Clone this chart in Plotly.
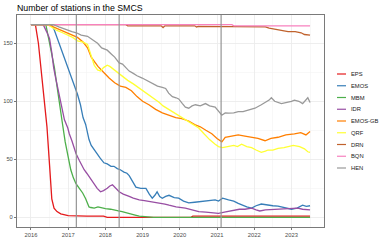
import plotly.graph_objects as go

# ---------------- data (decimal years, number of stations) ----------------
names = ["EPS", "EMOS", "MBM", "IDR", "EMOS-GB", "QRF", "DRN", "BQN", "HEN"]
colors = ["#E41A1C", "#377EB8", "#4DAF4A", "#984EA3", "#FF7F00",
          "#FFFF33", "#C0622D", "#F781BF", "#999999"]

eps_x = [2016.0, 2016.12, 2016.2, 2016.27, 2016.35, 2016.43, 2016.5, 2016.56, 2016.62,
         2016.7, 2016.8, 2016.9, 2017.0, 2017.5, 2017.95, 2018.05, 2020.3, 2020.35, 2023.5]
eps_y = [166, 166, 150, 129, 106, 78, 45, 16, 8, 5, 3, 2, 1.5, 1, 1, 0, 0, 1, 1]

emos_x = [2016.0, 2016.55, 2016.62, 2016.7, 2016.81, 2016.9, 2016.99, 2017.05, 2017.12,
          2017.18, 2017.25, 2017.33, 2017.4, 2017.47, 2017.52, 2017.56, 2017.62, 2017.7,
          2017.78, 2017.86, 2017.96, 2018.05, 2018.15, 2018.23, 2018.32, 2018.4, 2018.5,
          2018.58, 2018.64, 2018.72, 2018.82, 2018.95, 2019.09, 2019.18, 2019.26, 2019.33,
          2019.39, 2019.46, 2019.53, 2019.62, 2019.71, 2019.85, 2019.97, 2020.1, 2020.24,
          2020.4, 2020.51, 2020.7, 2020.85, 2020.95, 2021.04, 2021.15, 2021.31, 2021.45,
          2021.57, 2021.7, 2021.8, 2021.93, 2022.05, 2022.19, 2022.35, 2022.5, 2022.64,
          2022.8, 2023.0, 2023.15, 2023.3, 2023.4, 2023.5]
emos_y = [166, 166, 162, 155, 146, 138, 129, 125, 118, 113, 106, 97, 86, 80, 72, 67, 62,
          58, 54, 51, 47, 46, 44, 44, 42, 41, 39, 38, 36, 31, 26, 25, 25, 20, 16.5, 19,
          22, 18, 16.5, 18, 19, 17, 16.5, 14, 12.5, 13, 13.5, 14, 14.5, 15, 14, 16.5, 15,
          14, 12, 10, 9, 8, 10, 11.5, 10.5, 10, 9.7, 8.5, 7, 8, 10.5, 9.5, 10]

mbm_x = [2016.0, 2016.4, 2016.5, 2016.56, 2016.63, 2016.7, 2016.77, 2016.85, 2016.92,
         2016.99, 2017.07, 2017.14, 2017.21, 2017.3, 2017.39, 2017.47, 2017.56, 2017.61,
         2017.7, 2017.8, 2017.9, 2018.0, 2018.14, 2018.25, 2018.35, 2018.45, 2018.59,
         2018.7, 2018.8, 2018.91, 2019.05, 2019.3, 2023.5]
mbm_y = [166, 166, 150, 140, 129, 113, 99, 80, 65, 55, 41, 34, 29, 25, 21, 16, 9, 8.5,
         8, 9, 8, 7.5, 7, 6, 5.5, 5, 4, 3, 2, 1, 0.5, 0, 0]

idr_x = [2016.0, 2016.33, 2016.42, 2016.5, 2016.56, 2016.61, 2016.67, 2016.72, 2016.81,
         2016.9, 2016.99, 2017.03, 2017.1, 2017.15, 2017.21, 2017.3, 2017.37, 2017.43,
         2017.5, 2017.6, 2017.7, 2017.78, 2017.87, 2017.95, 2018.05, 2018.12, 2018.19,
         2018.27, 2018.37, 2018.48, 2018.59, 2018.64, 2018.75, 2018.91, 2019.05, 2019.26,
         2019.45, 2019.6, 2019.71, 2019.9, 2020.15, 2020.3, 2020.51, 2020.7, 2020.85,
         2021.04, 2021.2, 2021.4, 2021.6, 2021.75, 2021.93, 2022.05, 2022.15, 2022.3,
         2022.55, 2022.8, 2023.0, 2023.17, 2023.3, 2023.5]
idr_y = [166, 166, 160, 154, 142, 129, 119, 111, 96, 84, 77, 72, 66, 60, 55, 49, 44, 41,
         38, 33, 28, 25, 22, 23, 25, 27, 28, 25, 22, 20, 19, 18, 16.5, 15, 14.5, 13.5,
         12, 11.5, 10.5, 9, 8, 7, 5, 4.5, 4, 3.5, 4.5, 6, 7, 7, 8, 6.5, 5.5, 6.5, 7,
         7.5, 7.5, 8, 7, 6.5]

emosgb_x = [2016.0, 2016.45, 2016.6, 2016.75, 2017.0, 2017.25, 2017.4, 2017.52, 2017.62,
            2017.7, 2017.8, 2017.95, 2018.1, 2018.25, 2018.4, 2018.55, 2018.7, 2018.85,
            2019.0, 2019.17, 2019.35, 2019.53, 2019.7, 2019.89, 2020.05, 2020.24, 2020.4,
            2020.55, 2020.7, 2020.86, 2021.0, 2021.13, 2021.22, 2021.4, 2021.57, 2021.75,
            2021.93, 2022.1, 2022.29, 2022.45, 2022.64, 2022.85, 2023.08, 2023.25, 2023.39,
            2023.5]
emosgb_y = [166, 166, 164, 162, 159, 155, 151, 146, 138, 134, 130, 125, 120, 116, 113,
            112, 109, 104, 100, 97, 93, 90, 88, 86, 85, 83, 80, 78, 75, 72, 68, 65, 69,
            70, 71, 70, 69, 68, 66, 68, 69, 71, 72, 73, 71, 74]

qrf_x = [2016.0, 2016.45, 2016.55, 2016.7, 2016.85, 2017.0, 2017.12, 2017.25, 2017.4,
         2017.52, 2017.58, 2017.64, 2017.7, 2017.79, 2017.87, 2017.95, 2018.05, 2018.12,
         2018.2, 2018.3, 2018.4, 2018.5, 2018.6, 2018.75, 2018.88, 2018.99, 2019.1,
         2019.2, 2019.35, 2019.45, 2019.55, 2019.7, 2019.8, 2019.95, 2020.1, 2020.2,
         2020.35, 2020.51, 2020.65, 2020.8, 2020.95, 2021.04, 2021.15, 2021.31, 2021.45,
         2021.55, 2021.66, 2021.8, 2021.93, 2022.05, 2022.19, 2022.3, 2022.37, 2022.5,
         2022.64, 2022.8, 2022.95, 2023.05, 2023.22, 2023.35, 2023.44, 2023.5]
qrf_y = [166, 166, 164, 161, 159, 157, 155, 152, 151, 149, 143, 136, 131, 127, 126, 129,
         131, 130, 128, 125, 123, 120, 118, 115, 112, 110, 107, 105, 101, 99, 96, 93, 91,
         88, 85, 83, 80, 77, 72, 67, 63, 61, 60, 61, 62, 61, 63, 61, 60, 58, 56, 57, 58,
         58, 59.5, 60, 61.5, 62, 61, 59, 56.5, 56]

drn_x = [2016.0, 2018.55, 2018.6, 2019.5, 2019.55, 2019.6, 2020.4, 2020.45, 2020.5,
         2022.3, 2022.4, 2022.55, 2022.7, 2022.91, 2023.1, 2023.26, 2023.35, 2023.5]
drn_y = [166, 166, 165, 165, 163.5, 165, 165, 164, 164.5, 164, 163, 162, 161, 160, 160,
         159, 157.5, 157]

bqn_x = [2016.0, 2021.4, 2021.45, 2023.5]
bqn_y = [166, 166, 165, 165]

hen_x = [2016.0, 2016.6, 2016.75, 2016.9, 2017.1, 2017.22, 2017.35, 2017.52, 2017.65,
         2017.79, 2017.9, 2018.05, 2018.15, 2018.25, 2018.37, 2018.46, 2018.55, 2018.64,
         2018.75, 2018.85, 2018.99, 2019.1, 2019.26, 2019.4, 2019.53, 2019.62, 2019.7,
         2019.8, 2019.9, 2019.97, 2020.07, 2020.15, 2020.24, 2020.33, 2020.42, 2020.55,
         2020.69, 2020.8, 2020.95, 2021.05, 2021.13, 2021.22, 2021.31, 2021.45, 2021.57,
         2021.7, 2021.8, 2022.02, 2022.19, 2022.3, 2022.4, 2022.46, 2022.55, 2022.73,
         2022.9, 2023.0, 2023.08, 2023.2, 2023.3, 2023.44, 2023.5]
hen_y = [166, 166, 164, 162, 160, 159, 157, 156, 153, 150, 146, 144, 141, 138, 133, 132,
         129, 126, 124, 122, 120, 118, 115, 113, 112, 111, 107, 104, 103, 102, 98, 95, 94,
         96, 97, 96, 98, 96, 95, 91, 88, 90, 89.7, 90, 91, 91, 92, 94, 97, 99, 101, 103,
         100, 98, 99, 100, 101, 100, 98, 103, 99]

series_x = [eps_x, emos_x, mbm_x, idr_x, emosgb_x, qrf_x, drn_x, bqn_x, hen_x]
series_y = [eps_y, emos_y, mbm_y, idr_y, emosgb_y, qrf_y, drn_y, bqn_y, hen_y]

event_years = [2017.22, 2018.37, 2021.11]
year_ticks = [2016, 2017, 2018, 2019, 2020, 2021, 2022, 2023]
year_labels = [str(y) for y in year_ticks]
y_ticks = [0, 50, 100, 150]
title_text = "Number of stations in the SMCS"

# ---------------- layout constants ----------------
W, H = 389, 240
L, R, T, B = 17, 65, 15, 13
FONT = "Liberation Sans, Arial, sans-serif"

fig = go.Figure()
for nm, c, xs, ys in zip(names, colors, series_x, series_y):
    fig.add_trace(go.Scatter(x=xs, y=ys, mode="lines", name=nm,
                             line=dict(color=c, width=1.3), showlegend=False))

for ev in event_years:
    fig.add_shape(type="line", xref="x", yref="paper", x0=ev, x1=ev, y0=0, y1=1,
                  line=dict(color="#959595", width=1.2), layer="above")

# manual legend (ggplot style: short key line + label)
pw = W - L - R
ph = H - T - B
leg_top_px = 74
leg_step = 11.75
for i, (nm, c) in enumerate(zip(names, colors)):
    py = leg_top_px + i * leg_step
    yp = (H - B - py) / ph
    x0 = (337 - L) / pw
    x1 = (346 - L) / pw
    fig.add_shape(type="line", xref="paper", yref="paper", x0=x0, x1=x1, y0=yp, y1=yp,
                  line=dict(color=c, width=1.2))
    fig.add_annotation(xref="paper", yref="paper", x=(350 - L) / pw, y=yp, text=nm,
                       showarrow=False, xanchor="left", yanchor="middle", borderpad=0,
                       font=dict(size=5.8, color="#1a1a1a", family=FONT))

axis_common = dict(showline=True, mirror=True, linecolor="#7a7a7a", linewidth=1,
                   ticks="outside", ticklen=2, tickcolor="#555", tickwidth=0.8,
                   tickfont=dict(size=5.8, color="#4D4D4D", family=FONT),
                   showgrid=True, gridcolor="#EBEBEB", gridwidth=0.8, zeroline=False,
                   automargin=False)

fig.update_layout(
    width=W, height=H, margin=dict(l=L, r=R, t=T, b=B, autoexpand=False),
    paper_bgcolor="white", plot_bgcolor="white",
    font=dict(family=FONT),
    title=dict(text=title_text, x=L / W, xanchor="left", xref="container",
               y=1 - 8 / H, yanchor="middle", yref="container",
               font=dict(size=8.8, color="#000", family=FONT)),
    xaxis=dict(range=[2015.625, 2023.875], tickmode="array", tickvals=year_ticks,
               ticktext=year_labels,
               minor=dict(dtick=0.5, tick0=2016, showgrid=True, gridcolor="#F3F3F3",
                          gridwidth=0.6, ticks=""),
               **axis_common),
    yaxis=dict(range=[-8.3, 174.3], tickmode="array", tickvals=y_ticks,
               minor=dict(dtick=25, tick0=0, showgrid=True, gridcolor="#F3F3F3",
                          gridwidth=0.6, ticks=""),
               **axis_common),
    showlegend=False,
)

fig.write_html("out.html", config={"displayModeBar": False, "staticPlot": True},
               post_script="document.body.style.margin='0px';"
                           "document.body.style.overflow='hidden';")
